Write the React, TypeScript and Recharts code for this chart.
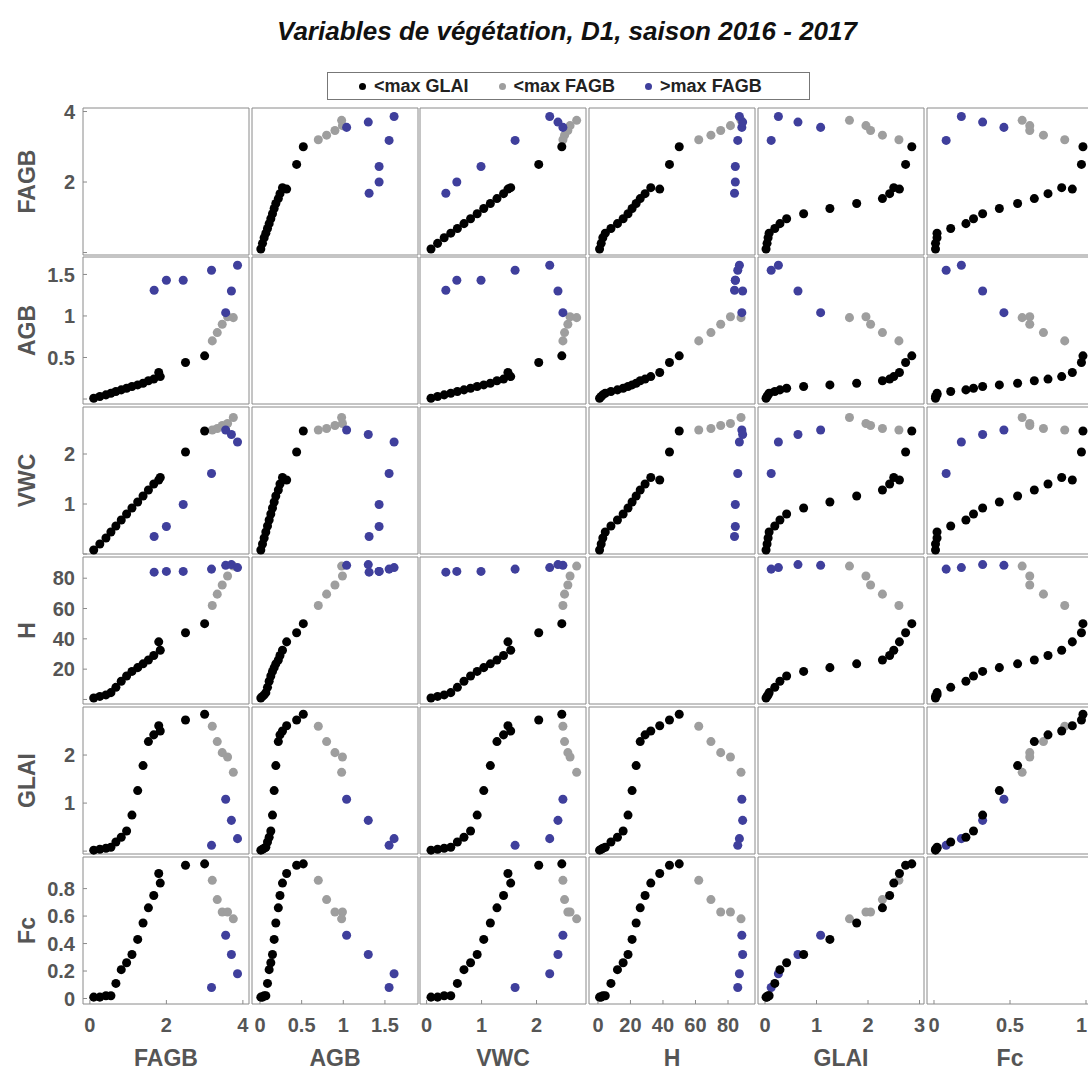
import React from 'react';
import { ScatterChart, Scatter, XAxis, YAxis, ZAxis } from 'recharts';

// variables of the matrix, in row / column order
const varNames = ['FAGB', 'AGB', 'VWC', 'H', 'GLAI', 'Fc'];
const groupNames = ['<max GLAI', '<max FAGB', '>max FAGB'];
const groupColors = ['#000000', '#9e9e9e', '#3f3f9c'];

// one entry per observation (16 black, 5 gray, 7 blue)
const group = [0, 0, 0, 0, 0, 0, 0, 0, 0, 0, 0, 0, 0, 0, 0, 0, 1, 1, 1, 1, 1, 2, 2, 2, 2, 2, 2, 2];
const FAGB = [0.10, 0.26, 0.42, 0.55, 0.68, 0.82, 0.96, 1.10, 1.25, 1.39, 1.53, 1.67, 1.84, 1.80, 2.50, 3.00,
  3.20, 3.33, 3.46, 3.60, 3.75, 3.55, 3.70, 3.86, 3.18, 2.44, 2.00, 1.68];
const AGB = [0.01, 0.03, 0.05, 0.07, 0.09, 0.11, 0.13, 0.15, 0.17, 0.19, 0.22, 0.24, 0.27, 0.32, 0.44, 0.52,
  0.70, 0.80, 0.90, 0.99, 0.98, 1.04, 1.30, 1.61, 1.55, 1.43, 1.43, 1.31];
const VWC = [0.08, 0.20, 0.32, 0.44, 0.56, 0.68, 0.80, 0.92, 1.04, 1.16, 1.28, 1.40, 1.53, 1.48, 2.04, 2.46,
  2.48, 2.51, 2.57, 2.61, 2.73, 2.48, 2.39, 2.24, 1.61, 0.99, 0.55, 0.35];
const H = [1, 2, 3, 4.5, 8, 12, 15.5, 18.5, 21, 23.5, 26, 29, 32.5, 38, 44, 50,
  62, 69.5, 75.5, 81.5, 88, 88.5, 89, 87, 86, 84.5, 84.5, 84];
const GLAI = [0.02, 0.04, 0.06, 0.08, 0.19, 0.29, 0.42, 0.75, 1.26, 1.78, 2.28, 2.42, 2.50, 2.61, 2.73, 2.85,
  2.60, 2.28, 2.05, 1.96, 1.64, 1.08, 0.64, 0.26, 0.12, null, null, null];
const Fc = [0.01, 0.01, 0.02, 0.02, 0.11, 0.21, 0.26, 0.32, 0.43, 0.55, 0.66, 0.75, 0.84, 0.91, 0.97, 0.98,
  0.86, 0.72, 0.63, 0.63, 0.58, 0.46, 0.32, 0.18, 0.08, null, null, null];

const xTicks: Record<string, number[]> = {
  FAGB: [0, 2, 4], AGB: [0, 0.5, 1, 1.5], VWC: [0, 1, 2], H: [0, 20, 40, 60, 80], GLAI: [0, 1, 2, 3], Fc: [0, 0.5, 1],
};
const yTicks: Record<string, number[]> = {
  FAGB: [0, 2, 4], AGB: [0, 0.5, 1, 1.5], VWC: [0, 1, 2], H: [0, 20, 40, 60, 80], GLAI: [0, 1, 2], Fc: [0, 0.2, 0.4, 0.6, 0.8],
};

// axis ranges (as in the original plot)
const xDomain: Record<string, number[]> = {
  FAGB: [-0.18, 4.16], AGB: [-0.096, 1.897], VWC: [-0.12, 2.9], H: [-5.5, 96.6], GLAI: [-0.136, 3.087], Fc: [-0.046, 1.046],
};
const yDomain: Record<string, number[]> = {
  FAGB: [-0.07, 4.1], AGB: [-0.06, 1.71], VWC: [0, 2.94], H: [-3, 94], GLAI: [-0.06, 3.0], Fc: [-0.04, 1.03],
};

const cols: Record<string, (number | null)[]> = { FAGB, AGB, VWC, H, GLAI, Fc };
const rows = group.map((g, i) => {
  const o: any = { g };
  varNames.forEach((v) => { o[v] = cols[v][i]; });
  return o;
});
const pts = (g: number, xv: string, yv: string) =>
  rows.filter((o) => o.g === g && o[xv] != null && o[yv] != null);
const allPts = (xv: string, yv: string) => rows.filter((o) => o[xv] != null && o[yv] != null);

const colLeft = [83, 252, 420, 589, 758, 927];
const rowTop = [108, 257, 407, 557, 707, 857];
const PW = 166;
const PH = 147;
const LEFT_W = 112;
const BOTTOM_H = 66;

const frame = '#8a8a8a';
const labelFont = '"Liberation Sans", Arial, sans-serif';
const tickStyle = { fill: '#555', fontSize: 20, fontWeight: 700, fontFamily: labelFont };
const axisLabelStyle = { fill: '#555', fontSize: 23, fontWeight: 700, fontFamily: labelFont };

const fmt = (showZero: boolean) => (v: number) => (v === 0 && !showZero ? '' : String(v));

// bottom tick of the last column: the right-most label is pulled inside the page
const EdgeTick = (props: any) => {
  const { x, y, payload } = props;
  const last = payload.value === xTicks.Fc[xTicks.Fc.length - 1];
  return (
    <text x={last ? x + 1 : x} y={y} dy="0.71em" textAnchor={last ? 'end' : 'middle'} {...tickStyle}>
      {payload.value}
    </text>
  );
};

const Panel = ({ r, c }: { r: number; c: number }) => {
  const xv = varNames[c];
  const yv = varNames[r];
  const isLeft = c === 0;
  const isBottom = r === 5;
  const w = PW + (isLeft ? LEFT_W : 0);
  const h = PH + (isBottom ? BOTTOM_H : 0);
  const bottomTick = isBottom ? (c === 5 ? <EdgeTick /> : tickStyle) : false;
  return (
    <div style={{ position: 'absolute', left: colLeft[c] - (isLeft ? LEFT_W : 0), top: rowTop[r], width: w, height: h }}>
      <ScatterChart width={w} height={h} margin={{ top: 0, right: 0, bottom: 0, left: 0 }}>
        <ZAxis range={[70, 70]} />
        <XAxis
          xAxisId="b"
          type="number"
          dataKey={xv}
          domain={xDomain[xv]}
          ticks={xTicks[xv]}
          interval={0}
          orientation="bottom"
          mirror={!isBottom}
          height={isBottom ? BOTTOM_H : 30}
          tick={bottomTick}
          tickSize={isBottom ? -4 : 4}
          tickMargin={18}
          tickLine={{ stroke: frame }}
          axisLine={{ stroke: frame }}
          label={isBottom ? { value: xv, position: 'insideBottom', offset: 4, style: axisLabelStyle } : undefined}
        />
        <XAxis
          xAxisId="t"
          type="number"
          dataKey={xv}
          domain={xDomain[xv]}
          ticks={xTicks[xv]}
          interval={0}
          orientation="top"
          mirror
          tick={false}
          tickSize={4}
          tickLine={{ stroke: frame }}
          axisLine={{ stroke: frame }}
        />
        <YAxis
          yAxisId="l"
          type="number"
          dataKey={yv}
          domain={yDomain[yv]}
          ticks={yTicks[yv]}
          interval={0}
          orientation="left"
          mirror={!isLeft}
          width={isLeft ? LEFT_W : 60}
          tick={isLeft ? tickStyle : false}
          tickFormatter={fmt(yv === 'Fc')}
          tickSize={isLeft ? -4 : 4}
          tickMargin={12}
          tickLine={{ stroke: frame }}
          axisLine={{ stroke: frame }}
          label={isLeft ? { value: yv, angle: -90, position: 'center', style: axisLabelStyle } : undefined}
        />
        <YAxis
          yAxisId="r"
          type="number"
          dataKey={yv}
          domain={yDomain[yv]}
          ticks={yTicks[yv]}
          interval={0}
          orientation="right"
          mirror
          tick={false}
          tickSize={4}
          tickLine={{ stroke: frame }}
          axisLine={{ stroke: frame }}
        />
        {/* invisible carriers so that every axis of the frame gets its ticks */}
        <Scatter data={allPts(xv, yv)} xAxisId="t" yAxisId="r" fill="none" legendType="none" isAnimationActive={false} />
        {r === c && (
          <Scatter data={allPts(xv, yv)} xAxisId="b" yAxisId="l" fill="none" legendType="none" isAnimationActive={false} />
        )}
        {r !== c &&
          [1, 2, 0].map((g) => (
            <Scatter
              key={g}
              name={groupNames[g]}
              data={pts(g, xv, yv)}
              xAxisId="b"
              yAxisId="l"
              fill={groupColors[g]}
              isAnimationActive={false}
            />
          ))}
      </ScatterChart>
    </div>
  );
};

const LegendBox = () => (
  <div
    style={{
      position: 'absolute', left: 327, top: 72, width: 483, height: 28, boxSizing: 'border-box',
      border: '1px solid #777', display: 'flex', alignItems: 'center', paddingLeft: 31, gap: 30,
      fontFamily: labelFont, fontWeight: 700, fontSize: 18, color: '#222',
    }}
  >
    {groupNames.map((n, i) => (
      <div key={n} style={{ display: 'flex', alignItems: 'center', gap: 8 }}>
        <span style={{ width: 7, height: 7, borderRadius: '50%', background: groupColors[i], display: 'inline-block' }} />
        <span>{n}</span>
      </div>
    ))}
  </div>
);

export default function App() {
  return (
    <div style={{ position: 'fixed', left: 0, top: 0, width: 1088, height: 1070, overflow: 'hidden', background: '#fff' }}>
      <style>{'.recharts-surface{overflow:visible}'}</style>
      <div
        style={{
          position: 'absolute', left: 567, top: 15, transform: 'translateX(-50%)', whiteSpace: 'nowrap',
          fontFamily: '"Liberation Sans Narrow", "Liberation Sans", Arial, sans-serif', fontWeight: 700,
          fontStyle: 'italic', fontSize: 26, lineHeight: '32px', color: '#111',
        }}
      >
        Variables de végétation, D1, saison 2016 - 2017
      </div>
      <LegendBox />
      {varNames.map((_, r) => varNames.map((__, c) => <Panel key={`${r}-${c}`} r={r} c={c} />))}
    </div>
  );
}
